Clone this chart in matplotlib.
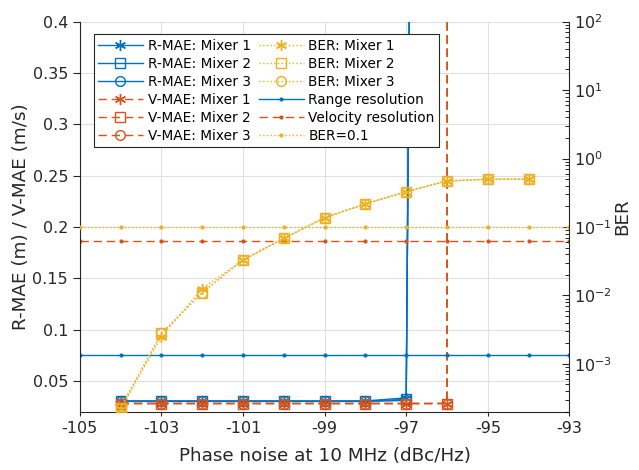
import numpy as np
import matplotlib
matplotlib.use('Agg')
import matplotlib.pyplot as plt

plt.rcParams['font.family'] = ['DejaVu Sans']
plt.rcParams['axes.unicode_minus'] = False

# phase noise points (dBc/Hz)
pn = [-104, -103, -102, -101, -100, -99, -98, -97, -96, -95, -94]

# range MAE (m), one list per mixer
rmae_1 = [0.0305, 0.0305, 0.0305, 0.0305, 0.0305, 0.0305, 0.0305, 0.0335, 5.0, 8.0, 9.0]
rmae_2 = [0.0302, 0.0302, 0.0302, 0.0302, 0.0302, 0.0302, 0.0302, 0.0320, 5.0, 8.0, 9.0]
rmae_3 = [0.0300, 0.0300, 0.0300, 0.0300, 0.0300, 0.0300, 0.0300, 0.0310, 5.0, 8.0, 9.0]

# velocity MAE (m/s)
vmae_1 = [0.028, 0.028, 0.028, 0.028, 0.028, 0.028, 0.028, 0.028, 0.028, 60.0, 70.0]
vmae_2 = [0.028, 0.028, 0.028, 0.028, 0.028, 0.028, 0.028, 0.028, 0.028, 60.0, 70.0]
vmae_3 = [0.028, 0.028, 0.028, 0.028, 0.028, 0.028, 0.028, 0.028, 0.028, 60.0, 70.0]

# bit error rate
ber_1 = [2.2e-4, 2.5e-3, 1.26e-2, 0.033, 0.068, 0.137, 0.217, 0.329, 0.47, 0.498, 0.498]
ber_2 = [2.3e-4, 2.8e-3, 1.1e-2, 0.033, 0.068, 0.137, 0.217, 0.329, 0.47, 0.498, 0.498]
ber_3 = [2.3e-4, 2.8e-3, 1.1e-2, 0.033, 0.068, 0.137, 0.217, 0.329, 0.47, 0.498, 0.498]

# reference levels
pn_ref = [-105, -104, -103, -102, -101, -100, -99, -98, -97, -96, -95, -94, -93]
range_res = 0.075
vel_res = 0.1864
ber_ref = 0.1

blue = '#0072BD'
orange = '#D95319'
yellow = '#EDB120'
star = (6, 2, 0)  # matlab-style asterisk
dash = (6, 3.5)

fig = plt.figure(figsize=(6.39, 4.70), dpi=100)
ax1 = fig.add_axes([0.125, 0.124, 0.766, 0.830])
ax2 = ax1.twinx()

h = []
h += ax1.plot(pn, rmae_1, '-', color=blue, marker=star, ms=8, mfc='none', lw=1.0, label='R-MAE: Mixer 1')
h += ax1.plot(pn, rmae_2, '-', color=blue, marker='s', ms=7, mfc='none', lw=1.0, label='R-MAE: Mixer 2')
h += ax1.plot(pn, rmae_3, '-', color=blue, marker='o', ms=7, mfc='none', lw=1.0, label='R-MAE: Mixer 3')
h += ax1.plot(pn, vmae_1, '--', dashes=dash, color=orange, marker=star, ms=8, mfc='none', lw=1.0, label='V-MAE: Mixer 1')
h += ax1.plot(pn, vmae_2, '--', dashes=dash, color=orange, marker='s', ms=7, mfc='none', lw=1.0, label='V-MAE: Mixer 2')
h += ax1.plot(pn, vmae_3, '--', dashes=dash, color=orange, marker='o', ms=7, mfc='none', lw=1.0, label='V-MAE: Mixer 3')
h += ax2.plot(pn, ber_1, ':', color=yellow, marker=star, ms=8, mfc='none', lw=1.0, label='BER: Mixer 1')
h += ax2.plot(pn, ber_2, ':', color=yellow, marker='s', ms=7, mfc='none', lw=1.0, label='BER: Mixer 2')
h += ax2.plot(pn, ber_3, ':', color=yellow, marker='o', ms=7, mfc='none', lw=1.0, label='BER: Mixer 3')
h += ax1.plot(pn_ref, [range_res] * len(pn_ref), '-', color=blue, marker='.', ms=4, lw=1.0, label='Range resolution')
h += ax1.plot(pn_ref, [vel_res] * len(pn_ref), '--', dashes=dash, color=orange, marker='.', ms=4, lw=1.0, label='Velocity resolution')
h += ax2.plot(pn_ref, [ber_ref] * len(pn_ref), ':', color=yellow, marker='.', ms=4, lw=1.0, label='BER=0.1')

ax1.set_xlim(-105, -93)
ax1.set_xticks([-105, -103, -101, -99, -97, -95, -93])
ax1.set_ylim(0.02, 0.4)
yt = [0.05, 0.1, 0.15, 0.2, 0.25, 0.3, 0.35, 0.4]
ax1.set_yticks(yt)
ax1.set_yticklabels(['0.05', '0.1', '0.15', '0.2', '0.25', '0.3', '0.35', '0.4'])
ax1.grid(True, color='#e0e0e0', lw=0.8)
ax1.set_axisbelow(True)

ax2.set_yscale('log')
ax2.set_ylim(2e-4, 1e2)
ax2.set_yticks([1e-3, 1e-2, 1e-1, 1e0, 1e1, 1e2])

for ax in (ax1, ax2):
    ax.spines['top'].set_visible(False)
    for s in ax.spines.values():
        s.set_color('#262626')
    ax.tick_params(labelsize=11.5, colors='#262626')
ax2.spines['left'].set_visible(False)
ax2.spines['bottom'].set_visible(False)
ax1.spines['right'].set_visible(False)
ax1.tick_params(axis='y', direction='out', length=5)
ax1.tick_params(axis='x', direction='out', length=3)
ax2.tick_params(axis='y', which='major', direction='in', length=5)
ax2.tick_params(axis='y', which='minor', direction='in', length=3)

ax1.set_xlabel('Phase noise at 10 MHz (dBc/Hz)', fontsize=13.2, color='#262626', labelpad=8)
ax1.set_ylabel('R-MAE (m) / V-MAE (m/s)', fontsize=13.2, color='#262626', labelpad=2)
ax2.set_ylabel('BER', fontsize=13.2, color='#262626', labelpad=1)

leg = ax2.legend(handles=h, loc='upper left', bbox_to_anchor=(0.0286, 0.967), borderaxespad=0,
                 ncol=2, fontsize=9.8, handlelength=3.3, handletextpad=0.35, columnspacing=0.6,
                 labelspacing=0.3, borderpad=0.3, fancybox=False, framealpha=1,
                 edgecolor='#262626')
leg.get_frame().set_linewidth(0.8)

plt.savefig('out.png', dpi=100)
